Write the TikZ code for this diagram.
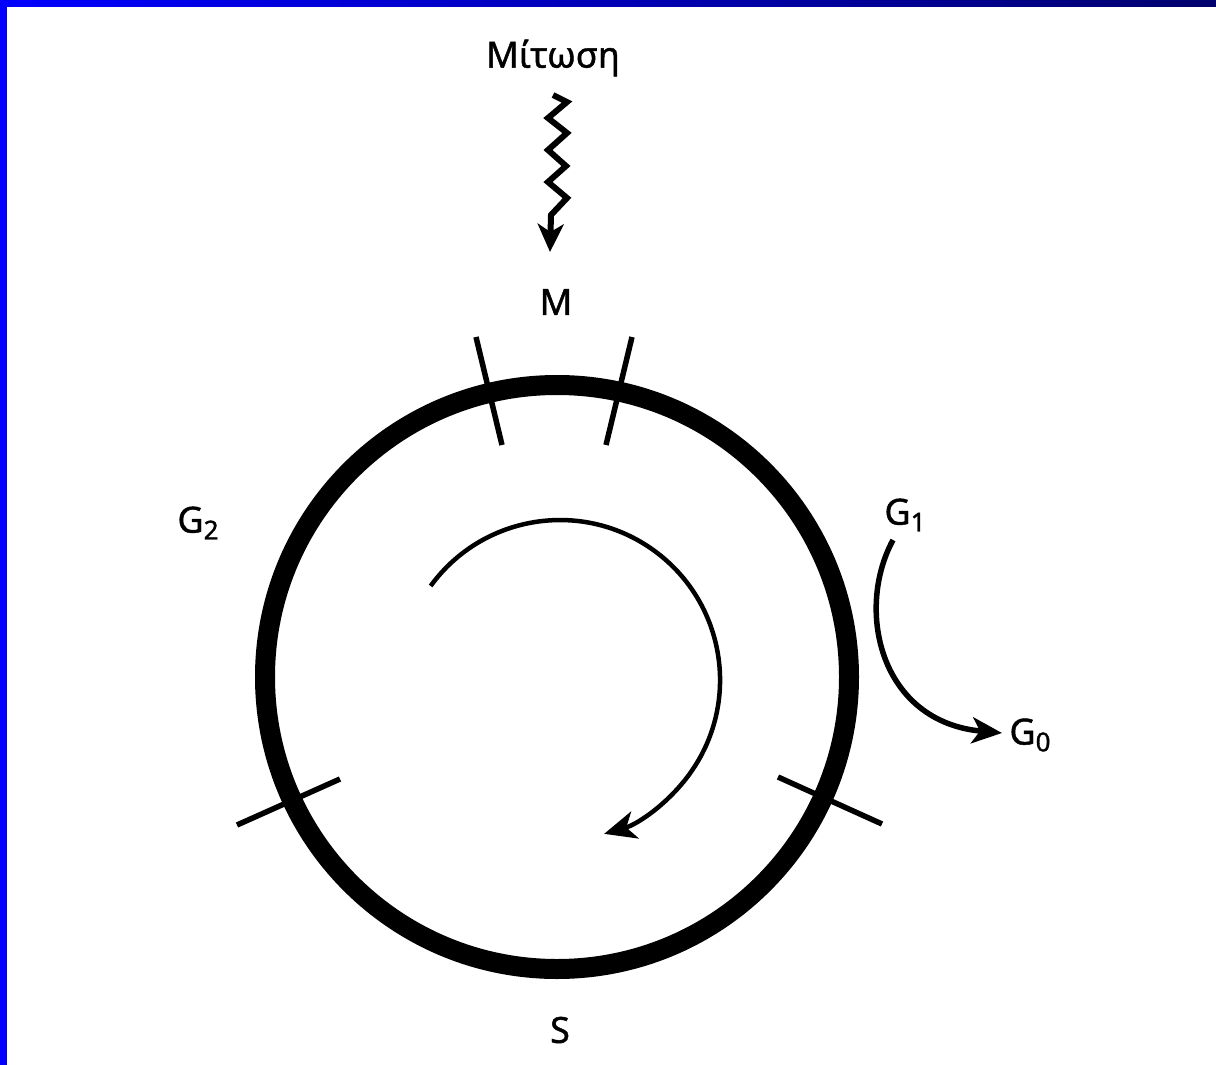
\documentclass[tikz,border=0pt]{standalone}
\usepackage{fontspec}
\setmainfont[FakeBold=1.2]{Noto Sans}
\usetikzlibrary{arrows.meta}
\begin{document}
\begin{tikzpicture}[x=1pt,y=1pt,
  lbl/.style={font=\bfseries\fontsize{36}{40}\selectfont, inner sep=0pt},
  tick/.style={line width=5.5pt},
  thin arrow/.style={line width=4.5pt, -{Stealth[length=32pt,width=28pt,inset=9pt]}},
  g arrow/.style={line width=5.5pt, -{Stealth[length=30pt,width=26pt,inset=8pt]}}]
\useasboundingbox (0,-1065) rectangle (1216,0);
\fill[white] (0,-1065) rectangle (1216,0);
% frame
\shade[left color=blue, right color={rgb,255:red,0;green,0;blue,110}] (0,-7) rectangle (1216,0);
\fill[blue] (0,-1065) rectangle (7,0);
% labels
\newcommand{\sub}[1]{\raisebox{-0.35ex}{\fontsize{26}{26}\selectfont #1}}
\node[lbl] (mit) at (553,-58) {Μίτωση};
\node[lbl] (M) at (556,-302) {M};
\node[lbl] (G2) at (198,-523) {G\sub{2}};
\node[lbl] (G1) at (905,-515) {G\sub{1}};
\node[lbl] (G0) at (1030,-735) {G\sub{0}};
\node[lbl] (S) at (560,-1030) {S};
% main circle
\coordinate (c) at (557,-677);
\draw[line width=20pt] (c) circle[radius=292];
% ticks
\draw[tick] (476,-337) -- (502,-445);
\draw[tick] (632,-337) -- (606,-445);
\draw[tick] (237,-825) -- (340,-779);
\draw[tick] (778,-777) -- (882,-824);
% inner arc
\draw[thin arrow] (430.6,-586) arc[start angle=144, end angle=-74, radius=160];
% zigzag mitosis arrow
\coordinate (ztip) at (550,-252);
\draw[line width=6pt, line join=miter, -{Stealth[length=28pt,width=26pt,inset=8pt]}]
  (553,-95) -- (567,-102) -- (548,-118) -- (567,-133) -- (548,-150) -- (566,-166)
  -- (548,-182) -- (567,-198) -- (551,-215) -- (ztip);
% G1 -> G0
\draw[g arrow] (893,-540) .. controls (855,-610) and (880,-722) .. (1002,-733);
\end{tikzpicture}
\end{document}
